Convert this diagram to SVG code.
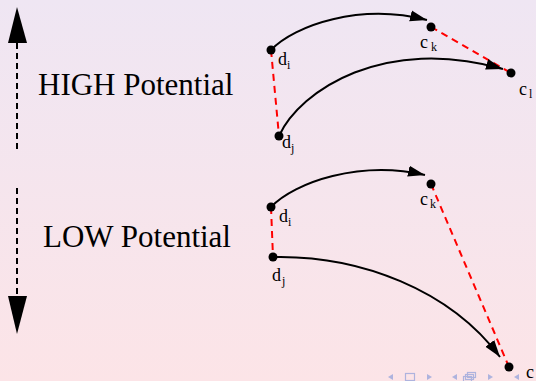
<svg xmlns="http://www.w3.org/2000/svg" width="536" height="381" viewBox="0 0 536 381">
  <defs>
    <linearGradient id="bg" x1="0" y1="0" x2="0" y2="1">
      <stop offset="0" stop-color="#EFE6F3"/>
      <stop offset="1" stop-color="#FCE4E7"/>
    </linearGradient>
    <marker id="arr" markerUnits="userSpaceOnUse" markerWidth="19" markerHeight="12" refX="17" refY="5.5" orient="auto" viewBox="0 0 19 11">
      <path d="M0,0 L17,5.5 L0,11 Z" fill="#000"/>
    </marker>
  </defs>
  <style>
    .lbl { font-family: "Liberation Serif", "Times New Roman", serif; font-size: 18px; fill: #000; }
    .sub { font-family: "Liberation Serif", "Times New Roman", serif; font-size: 12px; fill: #000; }
    .big { font-family: "Liberation Serif", "Times New Roman", serif; font-size: 31px; fill: #000; }
    .curve { fill: none; stroke: #000; stroke-width: 2; marker-end: url(#arr); }
    .rdash { fill: none; stroke: #FF0000; stroke-width: 2; stroke-dasharray: 7 5; }
    .vdash { stroke: #000; stroke-width: 2; stroke-dasharray: 6 4; }
    .dot { fill: #000; }
    .nav { fill: #AEB3DE; }
    .navs { fill: none; stroke: #AEB3DE; stroke-width: 1.2; }
  </style>
  <rect x="0" y="0" width="536" height="381" fill="url(#bg)"/>

  <g id="scale">
    <path d="M17,7 L8,43 L27,43 Z" fill="#000"/>
    <line class="vdash" x1="17" y1="43" x2="17" y2="152"/>
    <line class="vdash" x1="17" y1="188" x2="17" y2="296"/>
    <path d="M17,334 L8,296 L27,296 Z" fill="#000"/>
    <text class="big" x="38" y="95">HIGH Potential</text>
    <text class="big" x="43" y="247">LOW Potential</text>
  </g>

  <g id="connectors">
    <path class="rdash" d="M271,50 L279,136"/>
    <path class="rdash" d="M431,27 L511,73"/>
    <path class="rdash" d="M271,207 L273,257"/>
    <path class="rdash" d="M431,184 L509,367"/>
    <path class="curve" d="M271,50 C295,25 360,3 427,20"/>
    <path class="curve" d="M279,136 C300,90 385,35 503,69"/>
    <path class="curve" d="M271,207 C295,182 360,160 425,175"/>
    <path class="curve" d="M273,257 C360,255 450,290 500,357"/>
  </g>

  <g id="high-di">
    <circle class="dot" cx="271" cy="50" r="4.5"/>
    <text class="lbl" x="278" y="65">d</text><text class="sub" x="287" y="69">i</text>
  </g>
  <g id="high-ck">
    <circle class="dot" cx="431" cy="27" r="4.5"/>
    <text class="lbl" x="420" y="48">c</text><text class="sub" x="431" y="51">k</text>
  </g>
  <g id="high-cl">
    <circle class="dot" cx="511" cy="73" r="4.5"/>
    <text class="lbl" x="519" y="95">c</text><text class="sub" x="529" y="98">l</text>
  </g>
  <g id="high-dj">
    <circle class="dot" cx="279" cy="136" r="4.5"/>
    <text class="lbl" x="282" y="148">d</text><text class="sub" x="291" y="152">j</text>
  </g>

  <g id="low-di">
    <circle class="dot" cx="271" cy="207" r="4.5"/>
    <text class="lbl" x="279" y="222">d</text><text class="sub" x="288" y="226">i</text>
  </g>
  <g id="low-ck">
    <circle class="dot" cx="431" cy="184" r="4.5"/>
    <text class="lbl" x="420" y="205">c</text><text class="sub" x="430" y="208">k</text>
  </g>
  <g id="low-dj">
    <circle class="dot" cx="273" cy="257" r="4.5"/>
    <text class="lbl" x="272" y="281">d</text><text class="sub" x="282" y="285">j</text>
  </g>
  <g id="low-cl">
    <circle class="dot" cx="509" cy="367" r="4.5"/>
    <text class="lbl" x="526" y="378">c</text>
  </g>

  <g id="navigation">
    <path class="nav" d="M393,374 L388,377 L393,380 Z"/>
    <rect class="navs" x="405.5" y="373.5" width="9" height="7"/>
    <path class="nav" d="M427,374 L432,377 L427,380 Z"/>
    <path class="nav" d="M457,374 L452,377 L457,380 Z"/>
    <rect class="navs" x="463.5" y="376.5" width="8" height="5"/>
    <rect class="navs" x="465.5" y="374.5" width="8" height="5"/>
    <rect class="navs" x="467.5" y="372.5" width="8" height="5"/>
    <path class="nav" d="M488,374 L493,377 L488,380 Z"/>
    <path class="nav" d="M519,374 L514,377 L519,380 Z"/>
  </g>
</svg>
